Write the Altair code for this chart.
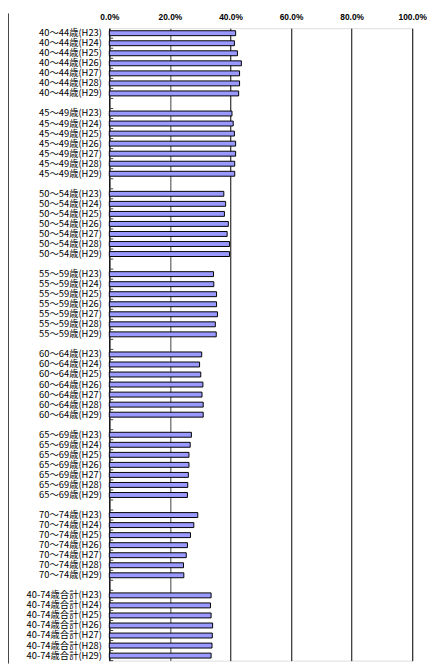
import altair as alt
import pandas as pd

groups = ["40～44歳", "45～49歳", "50～54歳", "55～59歳", "60～64歳", "65～69歳", "70～74歳", "40-74歳合計"]
years = ["H23", "H24", "H25", "H26", "H27", "H28", "H29"]

v_40_44 = [41.7, 41.3, 42.3, 43.6, 43.0, 43.0, 42.7]
v_45_49 = [40.5, 40.9, 41.3, 41.7, 41.7, 41.4, 41.4]
v_50_54 = [37.8, 38.4, 38.0, 39.3, 38.9, 39.7, 39.7]
v_55_59 = [34.4, 34.5, 35.4, 35.4, 35.7, 35.0, 35.3]
v_60_64 = [30.5, 29.8, 30.2, 30.9, 30.6, 31.0, 31.0]
v_65_69 = [27.1, 26.7, 26.3, 26.3, 26.1, 25.9, 25.8]
v_70_74 = [29.2, 27.9, 26.8, 25.8, 25.4, 24.5, 24.6]
v_total = [33.6, 33.4, 33.6, 34.1, 34.0, 33.9, 33.6]

series = [v_40_44, v_45_49, v_50_54, v_55_59, v_60_64, v_65_69, v_70_74, v_total]
x_ticks = [0.0, 0.2, 0.4, 0.6, 0.8, 1.0]

rows = []
domain = []
for gi, (g, vals) in enumerate(zip(groups, series)):
    for y, v in zip(years, vals):
        label = f"{g}({y})"
        domain.append(label)
        rows.append({"label": label, "value": v / 100.0})
    if gi < len(groups) - 1:
        domain.append(" " * (gi + 1))

df = pd.DataFrame(rows)
tick_df = pd.DataFrame({"label": domain})

W, H = 308, 643

yscale = alt.Scale(domain=domain, paddingInner=0, paddingOuter=0)
xscale = alt.Scale(domain=[0, 1])

bars = alt.Chart(df).mark_bar(
    size=5, color="#9999FF", stroke="#000000", strokeWidth=1
).encode(
    x=alt.X("value:Q", scale=xscale, axis=alt.Axis(
        orient="top", values=x_ticks, format=".1%", title=None,
        domain=False, ticks=False, labelFlush=False,
        labelFont="Liberation Sans, Arial, sans-serif",
        labelFontSize=8.5, labelFontWeight="bold", labelColor="#000000",
        labelPadding=7,
        grid=True,
        gridColor={"condition": {"test": "datum.value == 0.2", "value": "#808080"}, "value": "#000000"},
        gridWidth={"condition": {"test": "datum.value == 0.2", "value": 1.5}, "value": 1},
    )),
    y=alt.Y("label:N", scale=yscale, sort=domain, axis=alt.Axis(
        title=None, ticks=False, domain=True, domainColor="#000000",
        labelFont="Noto Sans CJK JP", labelFontSize=9.5, labelColor="#000000",
        labelPadding=8, grid=False,
    )),
)

ticks = alt.Chart(tick_df).mark_rule(color="#404040", strokeWidth=1).encode(
    y=alt.Y("label:N", scale=yscale, sort=domain, bandPosition=1),
    x=alt.value(0),
    x2=alt.value(4),
)

frame = alt.Chart(alt.Data(values=[{"a": 1}])).mark_rule(
    color="#404040", strokeWidth=1, clip=False
).encode(
    x=alt.value(-102.5), y=alt.value(-15), y2=alt.value(H + 3)
)

chart = alt.layer(bars, ticks, frame).properties(
    width=W, height=H,
    autosize=alt.AutoSizeParams(type="none"),
    padding={"left": 103, "top": 15, "right": 15, "bottom": 3},
).configure_view(stroke="#000000", strokeWidth=1).configure(background="white")

chart.save("out.html", embed_options={"renderer": "svg", "actions": False})
